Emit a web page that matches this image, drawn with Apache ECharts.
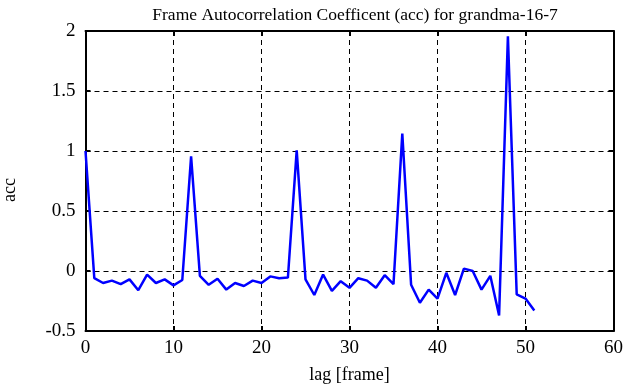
<!DOCTYPE html>
<html>
<head>
<meta charset="utf-8">
<script src="https://cdn.jsdelivr.net/npm/echarts@6/dist/echarts.min.js"></script>
<style>html,body{margin:0;padding:0;background:#fff;}#c{width:635px;height:387px;}</style>
</head>
<body>
<div id="c"></div>
<script>
const titleText = 'Frame Autocorrelation Coefficent (acc) for grandma-16-7';
const xName = 'lag [frame]';
const yName = 'acc';
const lags = [0,1,2,3,4,5,6,7,8,9,10,11,12,13,14,15,16,17,18,19,20,21,22,23,24,25,26,27,28,29,30,31,32,33,34,35,36,37,38,39,40,41,42,43,44,45,46,47,48,49,50,51];
const acc = [1.0,-0.06,-0.10,-0.08,-0.11,-0.07,-0.16,-0.03,-0.10,-0.07,-0.12,-0.075,0.955,-0.04,-0.115,-0.065,-0.155,-0.10,-0.125,-0.08,-0.10,-0.045,-0.06,-0.055,1.005,-0.07,-0.20,-0.03,-0.165,-0.085,-0.14,-0.06,-0.08,-0.14,-0.035,-0.11,1.145,-0.115,-0.265,-0.155,-0.23,-0.015,-0.20,0.02,0.0,-0.155,-0.04,-0.37,1.955,-0.195,-0.23,-0.33];
const xTicks = {min:0, max:60, interval:10};
const yTicks = {min:-0.5, max:2, interval:0.5};

const font = '"Liberation Serif", "DejaVu Serif", serif';
const chart = echarts.init(document.getElementById('c'), null, {renderer:'canvas'});
const axLine = {show:true, onZero:false, lineStyle:{color:'#000', width:2}};
const tick = {show:true, inside:true, length:5, lineStyle:{color:'#000', width:2}};
const grid = {show:true, lineStyle:{color:'#000', width:1, type:[5,4]}};
chart.setOption({
  animation:false,
  title:{text:titleText, left:350, top:1, textAlign:'center',
    textStyle:{fontFamily:font, fontSize:17.5, fontWeight:'normal', color:'#000'}},
  grid:{left:85.5, right:21.5, top:31, bottom:56, containLabel:false, outerBoundsMode:'none'},
  xAxis:[
    {type:'value', position:'bottom', min:xTicks.min, max:xTicks.max, interval:xTicks.interval,
     axisLine:axLine, axisTick:tick,
     axisLabel:{fontFamily:font, fontSize:19, color:'#000', margin:8},
     splitLine:grid,
     name:xName, nameLocation:'middle', nameGap:35,
     nameTextStyle:{fontFamily:font, fontSize:18, color:'#000'}},
    {type:'value', position:'top', min:xTicks.min, max:xTicks.max, interval:xTicks.interval,
     axisLine:axLine, axisTick:tick,
     axisLabel:{show:false}, splitLine:{show:false}}
  ],
  yAxis:[
    {type:'value', position:'left', min:yTicks.min, max:yTicks.max, interval:yTicks.interval,
     axisLine:axLine, axisTick:tick,
     axisLabel:{fontFamily:font, fontSize:19, color:'#000', margin:10},
     splitLine:grid,
     name:yName, nameLocation:'middle', nameGap:66, nameRotate:90,
     nameTextStyle:{fontFamily:font, fontSize:18, color:'#000', padding:[0,0,0,-18]}},
    {type:'value', position:'right', min:yTicks.min, max:yTicks.max, interval:yTicks.interval,
     axisLine:axLine, axisTick:tick,
     axisLabel:{show:false}, splitLine:{show:false}}
  ],
  series:[{
    type:'line', xAxisIndex:0, yAxisIndex:0,
    data:lags.map((l,i)=>[l, acc[i]]),
    showSymbol:false, symbol:'none',
    lineStyle:{color:'#0000ff', width:2.5},
    itemStyle:{color:'#0000ff'}
  }]
});
</script>
</body>
</html>
